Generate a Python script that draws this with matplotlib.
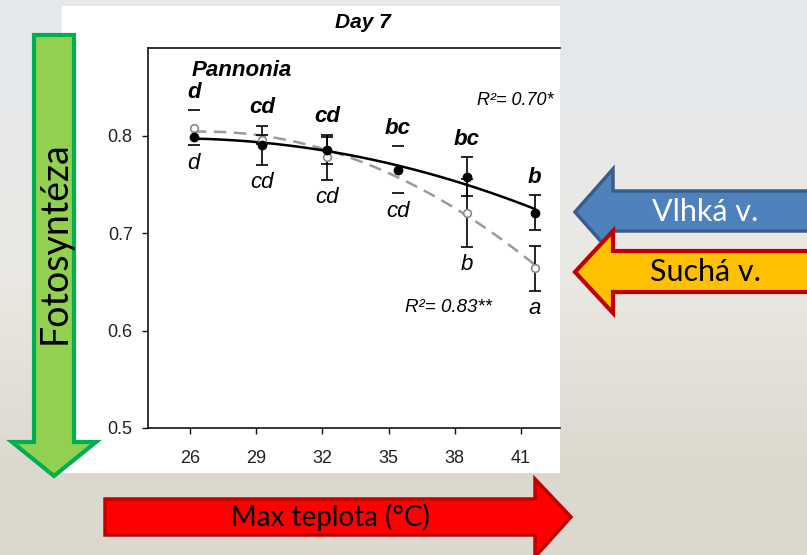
import matplotlib
matplotlib.use("Agg")
import matplotlib.pyplot as plt
from matplotlib.patches import Polygon, Rectangle
import numpy as np

# ---------------- data ----------------
x_ticks = [26, 29, 32, 35, 38, 41]
x_labels = ["26", "29", "32", "35", "38", "41"]
x_pos = [26.18, 29.27, 32.21, 35.43, 38.55, 41.63]
y_ticks = [0.5, 0.6, 0.7, 0.8]
y_labels = ["0.5", "0.6", "0.7", "0.8"]

wet = [0.799, 0.790, 0.785, 0.765, 0.758, 0.721]
wet_err = [0.0, 0.020, 0.014, 0.0, 0.020, 0.018]
dry = [0.808, 0.796, 0.778, 0.765, 0.721, 0.664]
dry_err = [0.018, 0.005, 0.023, 0.024, 0.035, 0.023]
dry_cap_only = [True, False, False, True, False, False]

wet_letters = ["d", "cd", "cd", "bc", "bc", "b"]
dry_letters = ["d", "cd", "cd", "cd", "b", "a"]
r2_wet = "R²= 0.70*"
r2_dry = "R²= 0.83**"
title = "Day 7"
cultivar = "Pannonia"
y_arrow_text = "Fotosyntéza"
x_arrow_text = "Max teplota (°C)"
wet_arrow_text = "Vlhká v."
dry_arrow_text = "Suchá v."

W, H = 807, 555
fig = plt.figure(figsize=(W / 100, H / 100), dpi=100)
fig.patch.set_facecolor("#e6e2db")

# background layer (pixel coordinates)
bg = fig.add_axes([0, 0, 1, 1], zorder=0)
bg.set_xlim(0, W)
bg.set_ylim(H, 0)
bg.axis("off")
bg.imshow(np.array([[[0.90, 0.91, 0.92]], [[0.92, 0.91, 0.89]],
                    [[0.87, 0.85, 0.81]]]),
          extent=(0, W, H, 0), aspect="auto", interpolation="bilinear")
bg.set_xlim(0, W)
bg.set_ylim(H, 0)
bg.add_patch(Rectangle((62, 6), 560 - 62, 473 - 6, color="white", lw=0))
bg.text(363, 23, title, ha="center", va="center", fontsize=15,
        fontweight="bold", fontstyle="italic", family="Liberation Sans")

# ---------------- chart ----------------
L, R, T, B = 148, 560, 48, 428
ax = fig.add_axes([L / W, 1 - B / H, (R - L) / W, (B - T) / H], zorder=1)
ax.set_facecolor("white")
ax.set_xlim(24.1, 42.77)
ax.set_ylim(0.5, 0.89)
for s in ["left", "top", "bottom"]:
    ax.spines[s].set_linewidth(1.2)
    ax.spines[s].set_color("#111111")
ax.spines["right"].set_visible(False)
ax.set_xticks(x_ticks)
ax.set_xticklabels(x_labels)
ax.set_yticks(y_ticks)
ax.set_yticklabels(y_labels)
ax.tick_params(axis="both", direction="out", length=4, width=1.0,
               labelsize=13, colors="#111111", labelcolor="#222222")
ax.tick_params(axis="x", pad=12)
ax.tick_params(axis="y", pad=7)
for lab in ax.get_xticklabels() + ax.get_yticklabels():
    lab.set_family("Liberation Sans")

xp = np.array(x_pos)
wv = np.array(wet)
dv = np.array(dry)

# quadratic fit lines
xx = np.linspace(xp[0], xp[-1], 200)
cw = np.polyfit(xp, wv, 2)
cd = np.polyfit(xp, dv, 2)
ax.plot(xx, np.polyval(cd, xx), color="#9a9a9a", lw=1.8,
        dashes=(5, 3), zorder=2)
ax.plot(xx, np.polyval(cw, xx), color="black", lw=1.8, zorder=3)

# error bars
wmask = np.array(wet_err) > 0
ax.errorbar(xp[wmask], wv[wmask], yerr=np.array(wet_err)[wmask], fmt="none",
            ecolor="black", elinewidth=1.2, capsize=4, capthick=1.2, zorder=4)
cmask = np.array(dry_cap_only)
ax.errorbar(xp[~cmask], dv[~cmask], yerr=np.array(dry_err)[~cmask], fmt="none",
            ecolor="black", elinewidth=1.2, capsize=4, capthick=1.2, zorder=4)
de = np.array(dry_err)
ax.plot(xp[cmask], dv[cmask] + de[cmask], ls="none", marker="_", ms=8,
        mew=1.2, color="black", zorder=4)
ax.plot(xp[cmask], dv[cmask] - de[cmask], ls="none", marker="_", ms=8,
        mew=1.2, color="black", zorder=4)

# markers
ax.plot(xp, dv, ls="none", marker="o", ms=5.5, mfc="white", mec="#888888",
        mew=1.2, zorder=5)
ax.plot(xp, wv, ls="none", marker="o", ms=6, mfc="black", mec="black",
        zorder=6)

# letters
top = np.maximum(wv + np.array(wet_err), dv + de)
bot = np.minimum(wv - np.array(wet_err), dv - de)
for x, t, lab in zip(xp, top, wet_letters):
    ax.annotate(lab, (x, t), xytext=(0, 13), textcoords="offset points",
                ha="center", va="center", fontsize=16, fontweight="bold",
                fontstyle="italic", family="Liberation Sans", zorder=7)
for x, b, lab in zip(xp, bot, dry_letters):
    ax.annotate(lab, (x, b), xytext=(0, -13), textcoords="offset points",
                ha="center", va="center", fontsize=16, fontstyle="italic",
                family="Liberation Sans", zorder=7)

ax.text(0.107, 0.942, cultivar, transform=ax.transAxes, ha="left",
        va="center", fontsize=16, fontweight="bold", fontstyle="italic",
        family="Liberation Sans")
ax.text(0.799, 0.863, r2_wet, transform=ax.transAxes, ha="left",
        va="center", fontsize=13, fontstyle="italic", family="Liberation Sans",
        clip_on=False)
ax.text(0.624, 0.318, r2_dry, transform=ax.transAxes, ha="left",
        va="center", fontsize=13.5, fontstyle="italic",
        family="Liberation Sans")

# ---------------- arrows (pixel layer on top) ----------------
fg = fig.add_axes([0, 0, 1, 1], zorder=2)
fg.set_xlim(0, W)
fg.set_ylim(H, 0)
fg.axis("off")
fg.patch.set_alpha(0)

def arrow(pts, fc, ec, lw):
    fg.add_patch(Polygon(pts, closed=True, fc=fc, ec=ec, lw=lw,
                         joinstyle="miter"))

# green down arrow
arrow([(34, 35), (74, 35), (74, 442), (96, 442), (54, 476), (12, 442),
       (34, 442)], "#92d050", "#00b050", 3.0)
fg.text(55, 243, y_arrow_text, rotation=90, ha="center", va="center",
        fontsize=27, family="Lato", color="black")

# red right arrow
arrow([(105, 499), (535, 499), (535, 479), (571, 517), (535, 557),
       (535, 535), (105, 535)], "#ff0000", "#c00000", 2.5)
fg.text(330, 517, x_arrow_text, ha="center", va="center", fontsize=20,
        family="Lato", color="black")

# blue left arrow (wet)
arrow([(815, 191), (613, 191), (613, 169), (575, 212), (613, 255),
       (613, 231), (815, 231)], "#4f81bd", "#385d8a", 2.5)
fg.text(705, 212, wet_arrow_text, ha="center", va="center", fontsize=22,
        family="Lato", color="white")

# yellow left arrow (dry)
arrow([(815, 251), (613, 251), (613, 231), (575, 272), (613, 313),
       (613, 292), (815, 292)], "#ffc000", "#c00000", 3.0)
fg.text(705, 272, dry_arrow_text, ha="center", va="center", fontsize=22,
        family="Lato", color="black")

fig.savefig("out.png", dpi=100, facecolor=fig.get_facecolor())
